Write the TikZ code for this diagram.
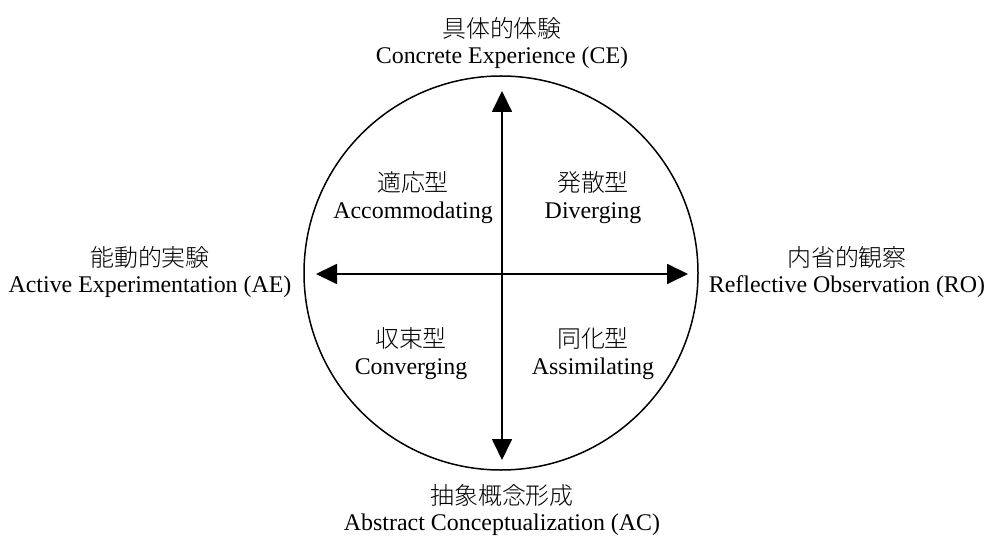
\documentclass[tikz,border=0pt]{standalone}
\usepackage{fontspec}
\setmainfont{Liberation Serif}
\newfontfamily\cjk{Noto Sans CJK JP Light}
\usetikzlibrary{arrows.meta}
\tikzset{
  lbl/.style={align=center, inner sep=0pt, font=\fontsize{24}{30}\selectfont},
  axis/.style={line width=1.8bp, {Triangle[length=21bp,width=20bp]}-{Triangle[length=21bp,width=20bp]}},
}
\begin{document}
\begin{tikzpicture}[x=1bp,y=-1bp]
\useasboundingbox (0,0) rectangle (984,538);
\node[draw, circle, line width=1.5bp, minimum size=394bp, inner sep=0pt] (c) at (501,273) {};
\coordinate (t) at (502,91);
\coordinate (b) at (502,460);
\coordinate (l) at (316,274);
\coordinate (r) at (688,274);
\draw[axis] (b) -- (t);
\draw[axis] (l) -- (r);
\node[lbl] (ce) at (502,43) {{\cjk 具体的体験}\\[-3pt]Concrete Experience (CE)};
\node[lbl] (ac) at (502,510) {{\cjk 抽象概念形成}\\[-3pt]Abstract Conceptualization (AC)};
\node[lbl] (ae) at (150,272) {{\cjk 能動的実験}\\[-3pt]Active Experimentation (AE)};
\node[lbl] (ro) at (847,272) {{\cjk 内省的観察}\\[-3pt]Reflective Observation (RO)};
\node[lbl] (acc) at (413,198) {{\cjk 適応型}\\[-3pt]Accommodating};
\node[lbl] (div) at (593,198) {{\cjk 発散型}\\[-3pt]Diverging};
\node[lbl] (con) at (411,354) {{\cjk 収束型}\\[-3pt]Converging};
\node[lbl] (ass) at (593,354) {{\cjk 同化型}\\[-3pt]Assimilating};
\end{tikzpicture}
\end{document}
